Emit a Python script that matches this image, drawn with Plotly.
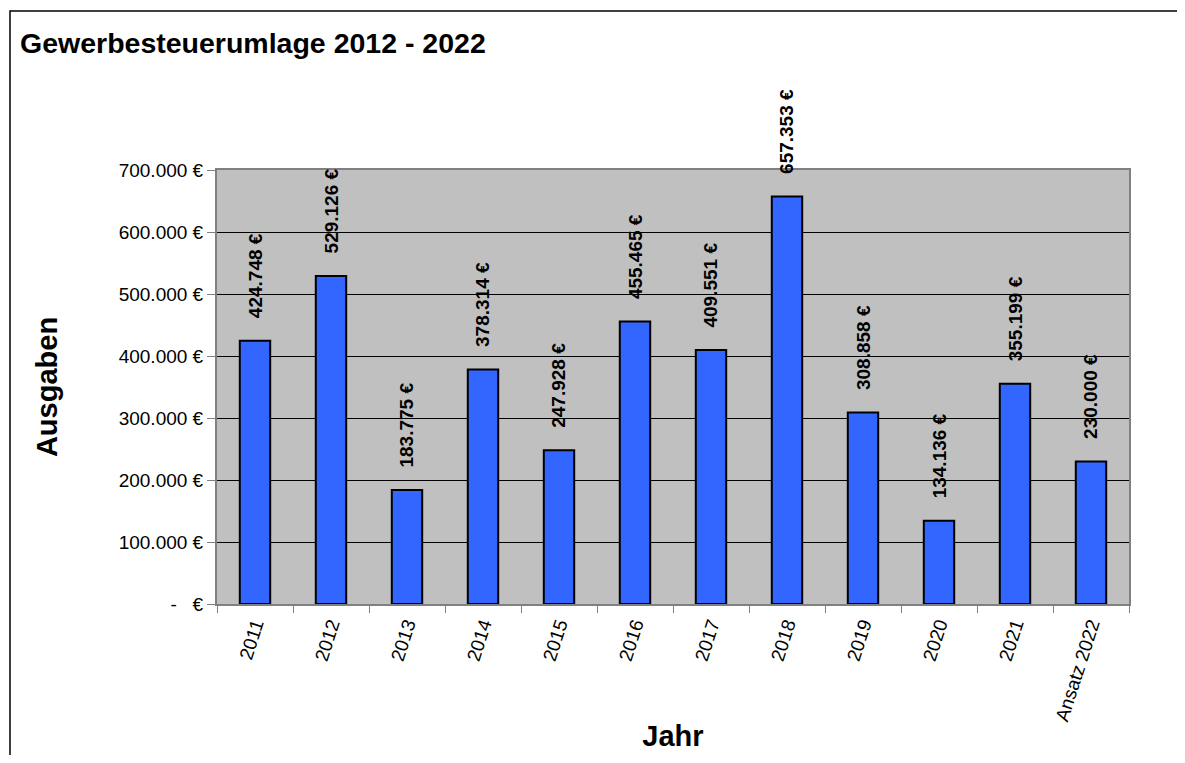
import plotly.graph_objects as go

# data
years = ["2011", "2012", "2013", "2014", "2015", "2016", "2017", "2018",
         "2019", "2020", "2021", "Ansatz 2022"]
ausgaben = [424748, 529126, 183775, 378314, 247928, 455465, 409551, 657353,
            308858, 134136, 355199, 230000]
tick_vals = [0, 100000, 200000, 300000, 400000, 500000, 600000, 700000]
tick_text = ["-   €", "100.000 €", "200.000 €", "300.000 €", "400.000 €",
             "500.000 €", "600.000 €", "700.000 €"]


def fmt_eur(v):
    return f"{v:,.0f} €".replace(",", ".")


FONT = "Liberation Sans, Arial, sans-serif"
# page body has an 8px margin, so the figure is sized/offset for that
W, H = 1169, 747
ML, MR, MT, MB = 209, 48, 162, 151

fig = go.Figure(go.Bar(
    x=years,
    y=ausgaben,
    marker=dict(color="#3366FF", line=dict(color="black", width=2)),
    hoverinfo="x+y",
))

# value labels above bars, rotated (x = category index)
for i, v in enumerate(ausgaben):
    fig.add_annotation(
        x=i, y=v, text=fmt_eur(v), textangle=-90,
        showarrow=False, yanchor="bottom", yshift=20,
        font=dict(family=FONT, size=19, color="black", weight="bold"),
    )

# outer frame of the chart area (Excel style)
px_w = W - ML - MR
px_h = H - MT - MB
fig.add_shape(
    type="rect", xref="paper", yref="paper", layer="below",
    x0=(2 - ML) / px_w, x1=(W + 20 - ML) / px_w,
    y0=-(MB + 20) / px_h, y1=1 + (MT - 3) / px_h,
    line=dict(color="black", width=1.5), fillcolor="rgba(0,0,0,0)",
)

fig.update_layout(
    width=W, height=H,
    margin=dict(l=ML, r=MR, t=MT, b=MB),
    paper_bgcolor="white",
    plot_bgcolor="#C0C0C0",
    showlegend=False,
    font=dict(family=FONT, color="black"),
    title=dict(text="<b>Gewerbesteuerumlage 2012 - 2022</b>",
               x=12 / W, xanchor="left", y=1 - 35 / H, yanchor="middle",
               font=dict(size=28.5)),
    bargap=0.6,
)

fig.update_xaxes(
    type="category",
    automargin=False,
    range=[-0.5, len(years) - 0.5],
    title=dict(text="<b>Jahr</b>", font=dict(size=29), standoff=3),
    tickangle=-72,
    tickfont=dict(size=19),
    ticks="outside", tickson="boundaries", ticklen=7, tickcolor="#808080",
    showline=True, linecolor="#808080", linewidth=2, mirror=True,
)
fig.update_yaxes(
    automargin=False,
    title=dict(text="<b>Ausgaben</b>", font=dict(size=29), standoff=53),
    range=[0, 700000],
    tickvals=tick_vals, ticktext=tick_text,
    tickfont=dict(size=19),
    ticks="outside", ticklen=8, tickcolor="#808080",
    showgrid=True, gridcolor="black", gridwidth=1,
    showline=True, linecolor="#808080", linewidth=2, mirror=True,
    zeroline=False,
)

fig.write_html("out.html")
